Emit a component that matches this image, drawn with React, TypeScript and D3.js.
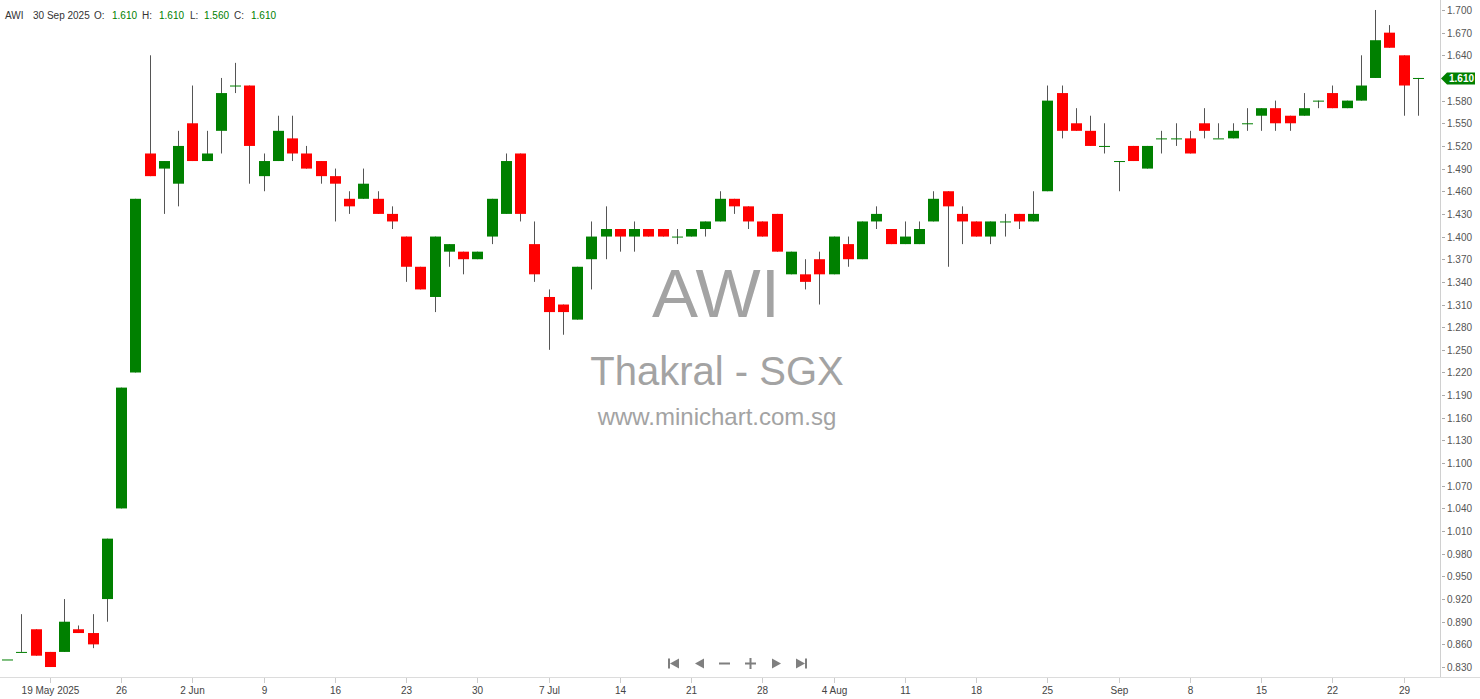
import React from "react";
import * as d3 from "d3";

const TICKER = "AWI";
const WATERMARK_1 = "AWI";
const WATERMARK_2 = "Thakral - SGX";
const WATERMARK_3 = "www.minichart.com.sg";
const START_DATE = new Date(2025, 4, 14);
const END_DATE = new Date(2025, 8, 30);

const openP = [
  0.84, 0.85, 0.88, 0.85, 0.85, 0.88, 0.875, 0.92, 1.04, 1.22,
  1.51, 1.49, 1.47, 1.55, 1.50, 1.54, 1.60, 1.60, 1.48, 1.50,
  1.53, 1.51, 1.50, 1.48, 1.45, 1.45, 1.45, 1.43, 1.40, 1.36,
  1.32, 1.38, 1.38, 1.37, 1.40, 1.43, 1.51, 1.39, 1.32, 1.31,
  1.29, 1.37, 1.40, 1.41, 1.40, 1.41, 1.41, 1.40, 1.40, 1.41,
  1.42, 1.45, 1.44, 1.42, 1.43, 1.35, 1.35, 1.37, 1.35, 1.39,
  1.37, 1.42, 1.41, 1.39, 1.39, 1.42, 1.46, 1.43, 1.42, 1.40,
  1.42, 1.43, 1.42, 1.46, 1.59, 1.55, 1.54, 1.52, 1.50, 1.52,
  1.49, 1.53, 1.53, 1.53, 1.55, 1.53, 1.53, 1.55, 1.56, 1.57,
  1.56, 1.56, 1.58, 1.59, 1.57, 1.58, 1.61, 1.67, 1.64, 1.61,
];
const highP = [
  0.84, 0.90, 0.88, 0.85, 0.92, 0.885, 0.90, 1.00, 1.20, 1.45,
  1.64, 1.50, 1.54, 1.60, 1.54, 1.61, 1.63, 1.60, 1.51, 1.56,
  1.56, 1.52, 1.50, 1.49, 1.46, 1.49, 1.46, 1.44, 1.40, 1.36,
  1.40, 1.39, 1.38, 1.38, 1.45, 1.51, 1.51, 1.42, 1.33, 1.31,
  1.36, 1.42, 1.44, 1.41, 1.42, 1.41, 1.41, 1.41, 1.41, 1.42,
  1.46, 1.45, 1.44, 1.42, 1.43, 1.38, 1.37, 1.38, 1.40, 1.40,
  1.42, 1.44, 1.41, 1.42, 1.42, 1.46, 1.46, 1.44, 1.42, 1.42,
  1.43, 1.43, 1.46, 1.60, 1.60, 1.57, 1.56, 1.55, 1.50, 1.52,
  1.52, 1.54, 1.55, 1.54, 1.57, 1.55, 1.55, 1.57, 1.57, 1.58,
  1.56, 1.59, 1.58, 1.60, 1.58, 1.64, 1.70, 1.68, 1.64, 1.61,
];
const lowP = [
  0.84, 0.85, 0.845, 0.83, 0.85, 0.875, 0.855, 0.89, 1.04, 1.22,
  1.48, 1.43, 1.44, 1.50, 1.50, 1.51, 1.59, 1.47, 1.46, 1.50,
  1.50, 1.49, 1.47, 1.42, 1.43, 1.45, 1.43, 1.41, 1.34, 1.33,
  1.30, 1.36, 1.35, 1.37, 1.39, 1.43, 1.42, 1.34, 1.25, 1.27,
  1.29, 1.33, 1.37, 1.38, 1.38, 1.40, 1.40, 1.39, 1.40, 1.40,
  1.42, 1.43, 1.41, 1.40, 1.38, 1.35, 1.33, 1.31, 1.35, 1.36,
  1.37, 1.41, 1.39, 1.39, 1.39, 1.42, 1.36, 1.39, 1.40, 1.39,
  1.40, 1.41, 1.42, 1.46, 1.53, 1.54, 1.52, 1.51, 1.46, 1.50,
  1.49, 1.51, 1.52, 1.51, 1.53, 1.53, 1.53, 1.54, 1.54, 1.54,
  1.54, 1.56, 1.57, 1.57, 1.57, 1.58, 1.61, 1.65, 1.56, 1.56,
];
const closeP = [
  0.84, 0.85, 0.845, 0.83, 0.89, 0.875, 0.86, 1.00, 1.20, 1.45,
  1.48, 1.50, 1.52, 1.50, 1.51, 1.59, 1.60, 1.52, 1.50, 1.54,
  1.51, 1.49, 1.48, 1.47, 1.44, 1.47, 1.43, 1.42, 1.36, 1.33,
  1.40, 1.39, 1.37, 1.38, 1.45, 1.50, 1.43, 1.35, 1.30, 1.30,
  1.36, 1.40, 1.41, 1.40, 1.41, 1.40, 1.40, 1.40, 1.41, 1.42,
  1.45, 1.44, 1.42, 1.40, 1.38, 1.38, 1.34, 1.35, 1.40, 1.37,
  1.42, 1.43, 1.39, 1.40, 1.41, 1.45, 1.44, 1.42, 1.40, 1.42,
  1.42, 1.42, 1.43, 1.58, 1.54, 1.54, 1.52, 1.52, 1.50, 1.50,
  1.52, 1.53, 1.53, 1.51, 1.54, 1.53, 1.54, 1.55, 1.57, 1.55,
  1.55, 1.57, 1.58, 1.57, 1.58, 1.60, 1.66, 1.65, 1.60, 1.61,
];

const xTickLabels = [
  "19 May 2025", "26", "2 Jun", "9", "16", "23", "30", "7 Jul", "14", "21",
  "28", "4 Aug", "11", "18", "25", "Sep", "8", "15", "22", "29",
];
const yTickValues = [
  0.83, 0.86, 0.89, 0.92, 0.95, 0.98, 1.01, 1.04, 1.07, 1.10,
  1.13, 1.16, 1.19, 1.22, 1.25, 1.28, 1.31, 1.34, 1.37, 1.40,
  1.43, 1.46, 1.49, 1.52, 1.55, 1.58, 1.61, 1.64, 1.67, 1.70,
];

const W = 1480;
const H = 699;
const PLOT_RIGHT = 1440;
const PLOT_BOTTOM = 678;
const GREEN = "#008000";
const RED = "#ff0000";
const FONT = "'Liberation Sans', Arial, sans-serif";

export default function App() {
  const days = d3.timeDay
    .range(START_DATE, d3.timeDay.offset(END_DATE, 1))
    .filter((d) => d.getDay() !== 0 && d.getDay() !== 6);
  const n = openP.length;
  const data = d3.range(n).map((i) => ({
    date: days[i],
    o: openP[i],
    h: highP[i],
    l: lowP[i],
    c: closeP[i],
  }));
  const mondays = days
    .map((d, i) => ({ d, i }))
    .filter((e) => e.d.getDay() === 1);

  const x = d3.scaleLinear().domain([0, n - 1]).range([7, 1418]);
  const y = d3.scaleLinear().domain([0.81547, 1.71324]).range([PLOT_BOTTOM, 0]);

  const last = data[n - 1];
  const fmt = d3.format(".3f");
  const lastY = Math.round(y(last.c)) + 0.5;

  const headerItems: { t: string; x: number; color: string }[] = [
    { t: TICKER, x: 5, color: "#333" },
    { t: d3.timeFormat("%-d %b %Y")(last.date), x: 33, color: "#333" },
    { t: "O:", x: 94, color: "#333" },
    { t: fmt(last.o), x: 112, color: GREEN },
    { t: "H:", x: 142, color: "#333" },
    { t: fmt(last.h), x: 159, color: GREEN },
    { t: "L:", x: 190, color: "#333" },
    { t: fmt(last.l), x: 204, color: GREEN },
    { t: "C:", x: 234, color: "#333" },
    { t: fmt(last.c), x: 251, color: GREEN },
  ];

  const navY = 663.5;
  const navColor = "#7f7f7f";

  return (
    <div style={{ position: "absolute", left: 0, top: 0, width: W, height: H, overflow: "hidden" }}>
      <svg width={W} height={H} style={{ display: "block", background: "#fff" }} fontFamily={FONT}>
        {/* watermark */}
        <g fill="#a3a3a3" textAnchor="middle">
          <text x={716} y={317} fontSize={69}>{WATERMARK_1}</text>
          <text x={717} y={385} fontSize={40}>{WATERMARK_2}</text>
          <text x={717} y={425} fontSize={24}>{WATERMARK_3}</text>
        </g>

        {/* header */}
        <g fontSize={10}>
          {headerItems.map((h, i) => (
            <text key={i} x={h.x} y={19} fill={h.color}>{h.t}</text>
          ))}
        </g>

        {/* candles */}
        <g>
          {data.map((d, i) => {
            const cx = Math.round(x(i));
            const up = d.c >= d.o;
            const top = y(Math.max(d.o, d.c));
            const bot = y(Math.min(d.o, d.c));
            const hgt = Math.max(1, bot - top);
            return (
              <g key={i}>
                {d.h > d.l && (
                  <line x1={cx + 0.5} x2={cx + 0.5} y1={y(d.h)} y2={y(d.l)} stroke="#555" strokeWidth={1} />
                )}
                <rect x={cx - 5} y={top} width={11} height={hgt} fill={up ? GREEN : RED} />
              </g>
            );
          })}
        </g>

        {/* axes lines */}
        <line x1={PLOT_RIGHT + 0.5} x2={PLOT_RIGHT + 0.5} y1={0} y2={PLOT_BOTTOM} stroke="#d0d0d0" />
        <line x1={0} x2={W} y1={PLOT_BOTTOM - 0.5} y2={PLOT_BOTTOM - 0.5} stroke="#dcdcdc" />

        {/* y axis */}
        <g fontSize={10} fill="#555">
          {yTickValues.map((v) => {
            const yy = Math.round(y(v)) + 0.5;
            return (
              <g key={v}>
                <line x1={1442} x2={1445} y1={yy} y2={yy} stroke="#aaa" />
                <text x={1447} y={yy} dy="0.35em">{fmt(v)}</text>
              </g>
            );
          })}
        </g>

        {/* last price badge */}
        <g>
          <path
            d={`M${PLOT_RIGHT + 1},${lastY} L${PLOT_RIGHT + 7},${lastY - 6} L${W - 5},${lastY - 6} L${W - 5},${lastY + 6} L${PLOT_RIGHT + 7},${lastY + 6} Z`}
            fill={GREEN}
          />
          <text x={1449} y={lastY} dy="0.35em" fontSize={10} fontWeight="bold" fill="#fff">{fmt(last.c)}</text>
        </g>

        {/* x axis */}
        <g fontSize={10} fill="#444" textAnchor="middle">
          {mondays.map((m, k) => {
            const xx = Math.round(x(m.i)) + 0.5;
            return (
              <g key={k}>
                <line x1={xx} x2={xx} y1={PLOT_BOTTOM} y2={PLOT_BOTTOM + 5} stroke="#ccc" />
                <text x={xx} y={694}>{xTickLabels[k]}</text>
              </g>
            );
          })}
        </g>

        {/* navigation buttons */}
        <g fill={navColor}>
          <rect x={668} y={navY - 5} width={2} height={10} />
          <path d={`M670,${navY} L679,${navY - 5} L679,${navY + 5} Z`} />
          <path d={`M695,${navY} L704,${navY - 5} L704,${navY + 5} Z`} />
          <rect x={719} y={navY - 1} width={11} height={2} />
          <rect x={745} y={navY - 1} width={11} height={2} />
          <rect x={749.5} y={navY - 5.5} width={2} height={11} />
          <path d={`M772,${navY - 5} L781,${navY} L772,${navY + 5} Z`} />
          <path d={`M796,${navY - 5} L805,${navY} L796,${navY + 5} Z`} />
          <rect x={805} y={navY - 5} width={2} height={10} />
        </g>
      </svg>
    </div>
  );
}
